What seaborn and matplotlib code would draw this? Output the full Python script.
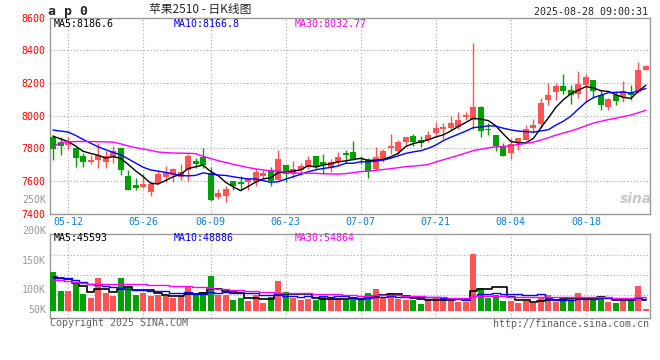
import numpy as np
import pandas as pd
import matplotlib
matplotlib.use('Agg')
import matplotlib.pyplot as plt
import seaborn as sns

# ------------------------------------------
# DATA
# ------------------------------------------
opens = [7867, 7838, 7818, 7801, 7754, 7719, 7727, 7719, 7746, 7805,
         7631, 7578, 7565, 7535, 7588, 7627, 7637, 7627, 7670, 7725,
         7750, 7647, 7504, 7508, 7600, 7594, 7592, 7592, 7629, 7666,
         7608, 7699, 7641, 7668, 7688, 7754, 7717, 7680, 7717, 7772,
         7777, 7737, 7729, 7671, 7727, 7800, 7782, 7839, 7877, 7853,
         7853, 7896, 7920, 7926, 7931, 7990, 7975, 8055, 7918, 7884,
         7806, 7771, 7833, 7853, 7926, 7947, 8098, 8143, 8184, 8159,
         8133, 8186, 8220, 8129, 8055, 8124, 8114, 8145, 8145, 8280]
highs = [7879, 7867, 7871, 7809, 7770, 7760, 7836, 7785, 7815, 7805,
         7670, 7619, 7643, 7592, 7666, 7690, 7682, 7705, 7766, 7742,
         7801, 7688, 7551, 7572, 7600, 7631, 7617, 7674, 7670, 7688,
         7791, 7699, 7723, 7711, 7754, 7754, 7766, 7736, 7781, 7791,
         7843, 7755, 7741, 7806, 7798, 7888, 7849, 7869, 7886, 7877,
         7908, 7961, 7955, 7996, 8024, 8024, 8445, 8061, 7955, 7884,
         7833, 7863, 7865, 7945, 7982, 8108, 8200, 8200, 8253, 8190,
         8276, 8253, 8220, 8155, 8108, 8149, 8214, 8190, 8327, 8308]
lows = [7729, 7760, 7797, 7688, 7688, 7705, 7678, 7678, 7713, 7637,
        7545, 7545, 7555, 7510, 7584, 7592, 7592, 7606, 7602, 7682,
        7682, 7477, 7490, 7473, 7545, 7545, 7545, 7567, 7619, 7572,
        7604, 7592, 7617, 7637, 7674, 7674, 7641, 7658, 7692, 7713,
        7731, 7706, 7618, 7669, 7714, 7767, 7761, 7818, 7812, 7806,
        7841, 7877, 7859, 7914, 7918, 7975, 7918, 7867, 7884, 7786,
        7751, 7737, 7792, 7851, 7894, 7922, 8067, 8098, 8133, 8073,
        8106, 8086, 8106, 8033, 8037, 8065, 8086, 8098, 8139, 8280]
closes = [7795, 7815, 7840, 7744, 7719, 7729, 7760, 7754, 7785, 7670,
          7547, 7559, 7580, 7580, 7645, 7654, 7674, 7654, 7754, 7705,
          7699, 7483, 7526, 7551, 7567, 7580, 7613, 7656, 7652, 7600,
          7736, 7641, 7674, 7692, 7729, 7695, 7699, 7717, 7748, 7760,
          7737, 7733, 7659, 7749, 7786, 7816, 7841, 7867, 7839, 7833,
          7884, 7926, 7933, 7957, 7971, 8006, 8055, 7904, 7914, 7812,
          7755, 7826, 7861, 7918, 7945, 8080, 8129, 8184, 8153, 8124,
          8192, 8235, 8149, 8063, 8104, 8092, 8149, 8124, 8282, 8302]

# volume in thousands
volume = [156, 80, 80, 108, 68, 52, 132, 72, 60, 132,
          92, 64, 72, 60, 64, 60, 52, 60, 100, 64,
          76, 140, 64, 64, 44, 52, 40, 64, 32, 56,
          120, 76, 52, 44, 48, 44, 60, 48, 48, 44,
          56, 44, 72, 88, 56, 72, 48, 44, 44, 28,
          48, 52, 52, 48, 36, 36, 228, 92, 52, 64,
          40, 40, 32, 40, 32, 56, 64, 36, 48, 48,
          72, 44, 48, 60, 36, 32, 52, 44, 100, 8]

ma5 = [7875, 7858, 7842, 7815, 7782.6, 7769.4, 7758.4, 7741.2, 7749.4, 7739.6,
       7703.2, 7663.0, 7628.2, 7587.2, 7582.2, 7603.6, 7626.6, 7641.4, 7676.2, 7688.2,
       7697.2, 7659.0, 7633.4, 7592.8, 7565.2, 7541.4, 7567.4, 7593.4, 7613.6, 7620.2,
       7651.4, 7657.0, 7660.6, 7668.6, 7694.4, 7686.2, 7697.8, 7706.4, 7717.6, 7723.8,
       7732.2, 7739.0, 7727.4, 7727.6, 7732.8, 7748.6, 7770.2, 7811.8, 7829.8, 7839.2,
       7852.8, 7869.8, 7883.0, 7906.6, 7934.2, 7958.6, 7984.4, 7978.6, 7970.0, 7938.2,
       7888.0, 7842.2, 7833.6, 7834.4, 7861.0, 7926.0, 7986.6, 8051.2, 8098.2, 8134.0,
       8156.4, 8177.6, 8170.6, 8152.6, 8148.6, 8128.6, 8111.4, 8106.4, 8150.2, 8186.6]
ma10 = [7912, 7906, 7900, 7880, 7855, 7832, 7810, 7792, 7776, 7761.1,
        7736.3, 7710.7, 7684.7, 7668.3, 7660.9, 7653.4, 7644.8, 7634.8, 7631.7, 7635.2,
        7650.4, 7642.8, 7637.4, 7634.5, 7626.7, 7619.3, 7613.2, 7613.4, 7603.2, 7592.7,
        7596.4, 7612.2, 7627.0, 7641.1, 7657.3, 7668.8, 7677.4, 7683.5, 7693.1, 7709.1,
        7709.2, 7718.4, 7716.9, 7722.6, 7728.3, 7740.4, 7754.6, 7769.6, 7778.7, 7786.0,
        7800.7, 7820.0, 7847.4, 7868.2, 7886.7, 7905.7, 7927.1, 7930.8, 7938.3, 7936.2,
        7923.3, 7913.3, 7906.1, 7902.2, 7899.6, 7907.0, 7914.4, 7942.4, 7966.3, 7997.5,
        8041.2, 8082.1, 8110.9, 8125.4, 8141.3, 8142.5, 8144.5, 8138.5, 8151.4, 8166.8]
ma30 = [7810, 7836, 7840, 7842, 7842, 7842, 7841, 7840, 7838, 7828,
        7815, 7805, 7796, 7788, 7778, 7774, 7772, 7771, 7770, 7768,
        7752, 7738, 7725, 7714, 7703, 7693, 7683, 7675, 7668, 7663.0,
        7661.0, 7655.2, 7649.7, 7648.0, 7648.3, 7647.2, 7645.1, 7643.9, 7642.7, 7645.7,
        7652.0, 7657.8, 7660.4, 7666.1, 7670.8, 7676.2, 7681.7, 7688.8, 7691.7, 7695.9,
        7702.1, 7716.9, 7730.4, 7744.0, 7757.4, 7771.6, 7786.4, 7794.6, 7803.4, 7810.4,
        7811.1, 7817.2, 7823.5, 7831.0, 7838.2, 7851.0, 7865.4, 7880.9, 7894.4, 7906.6,
        7921.7, 7938.5, 7954.8, 7965.3, 7975.9, 7985.1, 7995.3, 8003.9, 8018.7, 8032.8]

vma5 = [136, 134, 128, 112, 98.4, 77.6, 88.0, 86.4, 76.8, 89.6,
        97.6, 84.0, 84.0, 84.0, 70.4, 64.0, 61.6, 59.2, 67.2, 67.2,
        70.4, 88.0, 88.8, 81.6, 77.6, 72.8, 52.8, 52.8, 46.4, 48.8,
        62.4, 69.6, 67.2, 69.6, 68.0, 52.8, 49.6, 48.8, 49.6, 48.8,
        51.2, 48.0, 52.8, 60.8, 63.2, 66.4, 67.2, 61.6, 52.8, 47.2,
        42.4, 43.2, 44.8, 45.6, 47.2, 44.8, 80.0, 88.0, 88.8, 94.4,
        95.2, 57.6, 45.6, 43.2, 36.8, 40.0, 44.8, 45.6, 47.2, 50.4,
        53.6, 49.6, 52.0, 54.4, 52.0, 44.0, 45.6, 44.8, 52.8, 45.6]
vma10 = [134, 133, 131, 126, 118, 110, 104, 99, 96, 94.0,
         87.6, 86.0, 85.2, 80.4, 80.0, 80.8, 72.8, 71.6, 75.6, 68.8,
         67.2, 74.8, 74.0, 74.4, 72.4, 71.6, 70.4, 70.8, 64.0, 63.2,
         67.6, 61.2, 60.0, 58.0, 58.4, 57.6, 59.6, 58.0, 59.6, 58.4,
         52.0, 48.8, 50.8, 55.2, 56.0, 58.8, 57.6, 57.2, 56.8, 55.2,
         54.4, 55.2, 53.2, 49.2, 47.2, 43.6, 61.6, 66.4, 67.2, 70.8,
         70.0, 68.8, 66.8, 66.0, 65.6, 67.6, 51.2, 45.6, 45.2, 43.6,
         46.8, 47.2, 48.8, 50.8, 51.2, 48.8, 47.6, 48.4, 53.6, 48.9]
vma30 = [126, 123, 119, 115, 112, 110, 110, 110, 110, 110,
         110, 109, 107, 105, 104, 103, 102, 101, 99, 97,
         95, 92, 90, 88, 86, 84, 82, 80, 77, 75.3,
         74.1, 74.0, 73.1, 70.9, 70.3, 70.0, 67.6, 66.8, 66.4, 63.5,
         62.3, 61.6, 61.6, 62.5, 62.3, 62.7, 62.5, 62.0, 60.1, 58.9,
         58.0, 55.1, 54.7, 54.1, 53.9, 53.3, 59.6, 60.5, 61.2, 61.5,
         58.8, 57.6, 56.9, 56.8, 56.3, 56.7, 56.8, 56.4, 56.4, 56.5,
         57.1, 57.1, 56.3, 55.3, 54.7, 53.1, 53.2, 53.2, 55.1, 54.9]

# trading days (Dragon Boat holiday on 06-02)
dates = pd.bdate_range('2025-05-08', '2025-08-28').drop(pd.Timestamp('2025-06-02'))
date_labels = dates.strftime('%m-%d')
tick_dates = ['05-12', '05-26', '06-09', '06-23', '07-07', '07-21', '08-04', '08-18']

price_ticks = [7400, 7600, 7800, 8000, 8200, 8400, 8600]
vol_labels = ['250K', '200K', '150K', '100K', '50K']
vol_grid = [64, 144, 224]

RED = '#ff5454'
GREEN = '#00a000'
BLUE_TXT = '#0a80d8'
GRID = '#a8a8a8'
FRAME = '#999999'

# ------------------------------------------
# FIGURE
# ------------------------------------------
sns.set_style('white')
plt.rcParams['font.family'] = ['DejaVu Sans Mono', 'Noto Sans CJK SC']

fig = plt.figure(figsize=(6.6, 3.6), dpi=100)
W, H = 660, 360
ax = fig.add_axes([50 / W, 1 - 213.8 / H, 600 / W, 196.2 / H])
ax2 = fig.add_axes([50 / W, 1 - 318.3 / H, 600 / W, 84 / H])

x = np.arange(len(closes))
o = np.array(opens, dtype=float)
c = np.array(closes, dtype=float)
colors = np.where(c >= o, RED, GREEN)
tick_idx = [list(date_labels).index(d) for d in tick_dates]

# candles
ax.vlines(x, lows, highs, colors=colors, lw=1, zorder=3)
body_h = np.maximum(np.abs(c - o), 6)
ax.bar(x, body_h, bottom=np.minimum(o, c), width=0.8, color=colors, lw=0, zorder=3)

sns.lineplot(x=x, y=ma5, ax=ax, color='black', lw=1, zorder=4)
sns.lineplot(x=x, y=ma10, ax=ax, color='#0000ff', lw=1, zorder=4)
sns.lineplot(x=x, y=ma30, ax=ax, color='#ff00ff', lw=1, zorder=4)

# volume
ax2.bar(x, volume, width=0.8, color=colors, lw=0, zorder=3)
sns.lineplot(x=x, y=vma5, ax=ax2, color='black', lw=1.2, drawstyle='steps-mid', zorder=4)
sns.lineplot(x=x, y=vma10, ax=ax2, color='#0000ff', lw=1, drawstyle='steps-mid', zorder=4)
sns.lineplot(x=x, y=vma30, ax=ax2, color='#ff00ff', lw=1, drawstyle='steps-mid', zorder=4)

# axes styling
for a in (ax, ax2):
    a.set_xlim(-0.4, 79.54)
    a.set_xlabel('')
    a.set_ylabel('')
    for s in a.spines.values():
        s.set_color(FRAME)
        s.set_linewidth(1)
    for t in tick_idx:
        a.axvline(t, color=GRID, lw=0.8, ls=(0, (1, 2)), zorder=1)

ax.set_ylim(7400, 8600)
ax.set_yticks(price_ticks)
ax.set_yticklabels([str(p) for p in price_ticks])
for p in price_ticks[1:-1]:
    ax.axhline(p, color=GRID, lw=0.8, ls=(0, (1, 2)), zorder=1)
ax.set_xticks(tick_idx)
ax.set_xticklabels(tick_dates)
ax.tick_params(axis='y', length=0, labelsize=7.2, labelcolor='#ff0000', pad=3)
ax.tick_params(axis='x', length=0, labelsize=7.2, labelcolor=BLUE_TXT, pad=2)

ax2.set_ylim(-29, 307)
ax2.set_yticks([])
ax2.set_xticks([])
for v in vol_grid:
    ax2.axhline(v, color=GRID, lw=0.8, ls=(0, (1, 2)), zorder=1)

# volume axis labels (placed as sina draws them)
for lab, py in zip(vol_labels, [200.3, 230.7, 260.7, 290, 310.3]):
    fig.text(46 / W, 1 - py / H, lab, ha='right', va='center', fontsize=7.2, color='#999999')

# texts
fig.text(48 / W, 1 - 11 / H, 'a p 0', ha='left', va='center', fontsize=9.5, fontweight='bold')
fig.text(200 / W, 1 - 10 / H, '苹果2510 - 日K线图', ha='center', va='center', fontsize=8.5,
         family=['Noto Sans CJK SC', 'DejaVu Sans'])
fig.text(648 / W, 1 - 12 / H, '2025-08-28 09:00:31', ha='right', va='center', fontsize=7.2)

fig.text(54 / W, 1 - 24 / H, 'MA5:8186.6', ha='left', va='center', fontsize=7.2, color='black')
fig.text(174 / W, 1 - 24 / H, 'MA10:8166.8', ha='left', va='center', fontsize=7.2, color='#0000ff')
fig.text(295 / W, 1 - 24 / H, 'MA30:8032.77', ha='left', va='center', fontsize=7.2, color='#ff00ff')

fig.text(54 / W, 1 - 238.3 / H, 'MA5:45593', ha='left', va='center', fontsize=7.2, color='black')
fig.text(174 / W, 1 - 238.3 / H, 'MA10:48886', ha='left', va='center', fontsize=7.2, color='#0000ff')
fig.text(295 / W, 1 - 238.3 / H, 'MA30:54864', ha='left', va='center', fontsize=7.2, color='#ff00ff')

fig.text(50 / W, 1 - 323 / H, 'Copyright 2025 SINA.COM', ha='left', va='center', fontsize=7.2, color='#606060')
fig.text(649 / W, 1 - 324 / H, 'http://finance.sina.com.cn', ha='right', va='center', fontsize=7.2, color='#606060')

# sina watermark
fig.text(636 / W, 1 - 199 / H, 'sina', ha='center', va='center', fontsize=10, fontweight='bold',
         style='italic', color='#c8c8c8', family=['DejaVu Sans'])

fig.savefig('out.png', dpi=100, facecolor='white')
